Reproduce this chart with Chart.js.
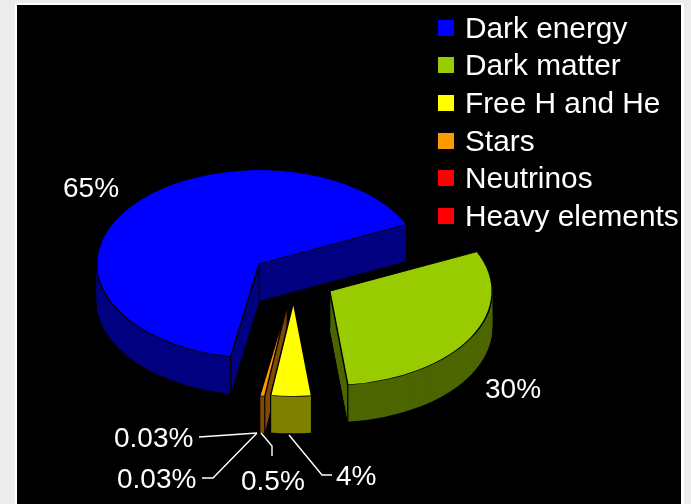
<!DOCTYPE html>
<html>
<head>
<meta charset="utf-8">
<title>Composition of the universe</title>
<script src="https://cdn.jsdelivr.net/npm/chart.js@4/dist/chart.umd.min.js"></script>
<style>
  html, body { margin: 0; height: 100%; background: #ececec; overflow: hidden; }
  #panel {
    position: absolute; left: 15px; top: 3px; width: 664px; height: 501px;
    background: #000; border: 2px solid #fff; border-bottom: 0; border-right-width: 3px;
  }
  #wrap { position: absolute; left: 0; top: 0; width: 691px; height: 504px; }
</style>
</head>
<body>
<div id="panel"></div>
<div id="wrap"><canvas id="pie"></canvas></div>
<script>
const categories = ["Dark energy", "Dark matter", "Free H and He", "Stars", "Neutrinos", "Heavy elements"];
const shares = [65, 30, 4, 0.5, 0.03, 0.03];
const topColors = ["#0000ff", "#99cc00", "#ffff00", "#ff9900", "#ff0000", "#ff0000"];
const wallColors = ["#000080", "#4d6600", "#808000", "#804d00", "#800000", "#800000"];

// 3D look of the pie
const tilt = 0.58;
const depth = 37;
const explodeBy = [44, 41, 39, 41, 41, 41];
const paintOrder = [0, 5, 4, 3, 2, 1];

// text anchors: [x, baseline] for each value label, in data order
const labelAnchors = [[63, 197], [485, 398], [336, 485], [241, 490], [117, 488], [114, 447]];
const leaderLines = [
  [[289, 435], [322, 475], [332, 475]],
  [[261, 433], [272, 446], [272, 456]],
  [[257, 433], [213, 478], [202, 478]],
  [[257, 433], [199, 437]],
];
const legendRows = [38, 75, 113, 151, 188, 226];

function paintArc(arc, ctx, overrides) {
  const saved = arc.options;
  arc.options = Object.assign({}, saved, overrides);
  arc.draw(ctx);
  arc.options = saved;
}

const tiltedPie = {
  id: "tiltedPie",
  beforeDatasetsDraw(chart) {
    const ctx = chart.ctx;
    const arcs = chart.getDatasetMeta(0).data;
    paintOrder.forEach((i) => {
      const arc = arcs[i];
      const mid = (arc.startAngle + arc.endAngle) / 2;
      ctx.save();
      ctx.translate(arc.x, arc.y);
      ctx.scale(1, tilt);
      ctx.translate(-arc.x + Math.cos(mid) * explodeBy[i], -arc.y + Math.sin(mid) * explodeBy[i]);

      // side wall: the slice stacked downward in its darker colour
      for (let d = depth; d >= 1; d--) {
        ctx.save();
        ctx.translate(0, d / tilt);
        paintArc(arc, ctx, { backgroundColor: wallColors[i], borderWidth: 0 });
        ctx.restore();
      }

      // vertical edges at the apex and the two rim corners
      const r = arc.outerRadius;
      const corners = [
        [arc.x, arc.y],
        [arc.x + Math.cos(arc.startAngle) * r, arc.y + Math.sin(arc.startAngle) * r],
        [arc.x + Math.cos(arc.endAngle) * r, arc.y + Math.sin(arc.endAngle) * r],
      ];
      ctx.strokeStyle = "#000";
      ctx.lineWidth = 1.2;
      corners.forEach(([x, y]) => {
        ctx.beginPath();
        ctx.moveTo(x, y);
        ctx.lineTo(x, y + depth / tilt);
        ctx.stroke();
      });

      paintArc(arc, ctx, {});
      ctx.restore();
    });
    return false;
  },
  afterDraw(chart) {
    const ctx = chart.ctx;
    ctx.save();
    ctx.fillStyle = "#fff";
    ctx.textAlign = "left";
    ctx.textBaseline = "alphabetic";

    // legend
    ctx.font = '29.8px "Liberation Sans", Arial, sans-serif';
    categories.forEach((name, i) => {
      ctx.fillStyle = topColors[i];
      ctx.fillRect(438, legendRows[i] - 18, 16, 16);
      ctx.fillStyle = "#fff";
      ctx.fillText(name, 465, legendRows[i]);
    });

    // value labels and their leaders
    ctx.font = '28px "Liberation Sans", Arial, sans-serif';
    shares.forEach((v, i) => {
      ctx.fillText(v + "%", labelAnchors[i][0], labelAnchors[i][1]);
    });
    ctx.strokeStyle = "#fff";
    ctx.lineWidth = 1.4;
    leaderLines.forEach((pts) => {
      ctx.beginPath();
      pts.forEach(([x, y], k) => (k ? ctx.lineTo(x, y) : ctx.moveTo(x, y)));
      ctx.stroke();
    });
    ctx.restore();
  },
};

new Chart(document.getElementById("pie"), {
  type: "pie",
  data: {
    labels: categories,
    datasets: [
      {
        data: shares,
        backgroundColor: topColors,
        borderColor: "#000",
        borderWidth: 1.5,
      },
    ],
  },
  options: {
    responsive: true,
    maintainAspectRatio: false,
    animation: false,
    events: [],
    rotation: 190.1,
    radius: 162.5,
    layout: { padding: { left: 0, right: 103, top: 55, bottom: 0 } },
    plugins: {
      legend: { display: false },
      tooltip: { enabled: false },
    },
  },
  plugins: [tiltedPie],
});
</script>
</body>
</html>
